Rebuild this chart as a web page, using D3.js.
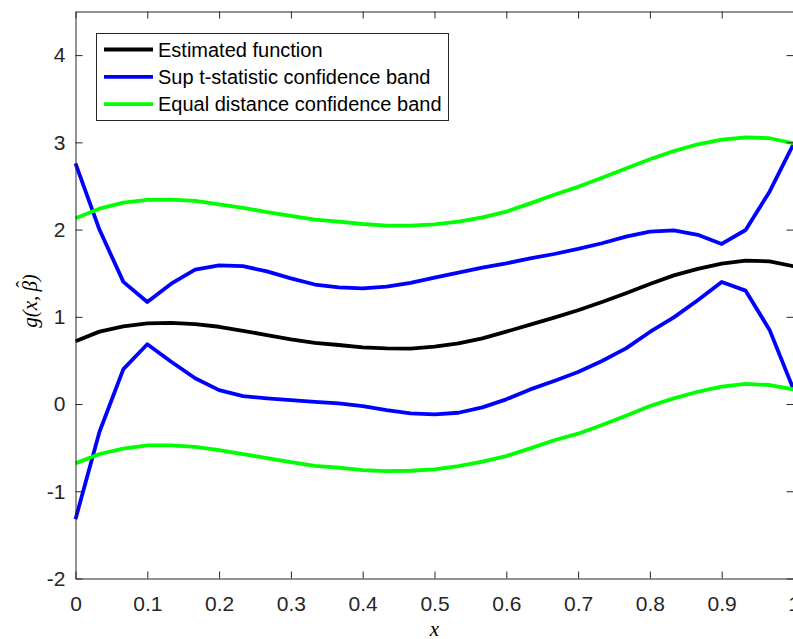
<!DOCTYPE html>
<meta charset="utf-8">
<style>
    body { margin: 0; background: #fff; }
    svg { display: block; }
    .tick text { font-family: 'Liberation Sans', Arial, sans-serif; font-size: 21px; fill: #262626; }
    .legend text { font-family: 'Liberation Sans', Arial, sans-serif; font-size: 20px; fill: #000; }
    .mathlabel { font-family: 'Liberation Serif', 'DejaVu Serif', serif; font-style: italic; font-size: 21px; fill: #000; }
</style>
<svg width="793" height="639"></svg>
<script src="https://cdn.jsdelivr.net/npm/d3@7"></script>
<script>
    // sample points x = 0, 1/30, ..., 1
    var xs = d3.range(31).map(function (i) { return i / 30; });

    var estimated = [0.72, 0.83, 0.89, 0.925, 0.93, 0.917, 0.886, 0.84, 0.79, 0.74, 0.70,
        0.677, 0.65, 0.638, 0.636, 0.657, 0.696, 0.753, 0.83, 0.91, 0.99,
        1.075, 1.17, 1.27, 1.376, 1.475, 1.55, 1.61, 1.645, 1.636, 1.58];
    var supUpper = [2.76, 2.0, 1.40, 1.17, 1.38, 1.54, 1.59, 1.58, 1.52, 1.44, 1.37,
        1.338, 1.327, 1.345, 1.39, 1.45, 1.506, 1.563, 1.613, 1.67, 1.72,
        1.778, 1.843, 1.92, 1.976, 1.99, 1.94, 1.835, 1.995, 2.435, 2.98];
    var supLower = [-1.32, -0.32, 0.40, 0.685, 0.485, 0.295, 0.16, 0.09, 0.065, 0.046, 0.025,
        0.008, -0.023, -0.069, -0.107, -0.118, -0.10, -0.038, 0.054, 0.168, 0.265,
        0.367, 0.493, 0.638, 0.826, 0.994, 1.19, 1.40, 1.30, 0.85, 0.17];
    var eqUpper = [2.13, 2.24, 2.31, 2.34, 2.343, 2.33, 2.29, 2.25, 2.20, 2.156, 2.115,
        2.09, 2.064, 2.045, 2.045, 2.06, 2.09, 2.14, 2.205, 2.30, 2.40,
        2.49, 2.595, 2.70, 2.806, 2.90, 2.978, 3.03, 3.058, 3.047, 2.99];
    var eqLower = [-0.68, -0.573, -0.51, -0.474, -0.474, -0.49, -0.527, -0.573, -0.62, -0.665, -0.71,
        -0.73, -0.757, -0.768, -0.765, -0.749, -0.711, -0.661, -0.596, -0.508, -0.415,
        -0.34, -0.24, -0.134, -0.023, 0.065, 0.141, 0.199, 0.23, 0.218, 0.168];

    var xTicks = [0, 0.1, 0.2, 0.3, 0.4, 0.5, 0.6, 0.7, 0.8, 0.9, 1];
    var xTickLabels = ["0", "0.1", "0.2", "0.3", "0.4", "0.5", "0.6", "0.7", "0.8", "0.9", "1"];
    var yTicks = [-2, -1, 0, 1, 2, 3, 4];
    var yTickLabels = ["-2", "-1", "0", "1", "2", "3", "4"];

    var legendNames = ["Estimated function", "Sup t-statistic confidence band", "Equal distance confidence band"];
    var legendColors = ["#000000", "#0000ff", "#00ff00"];

    var svg = d3.select("svg");
    var mLeft = 75.5, mRight = 793.5, mTop = 11.5, mBottom = 578.5;

    var x = d3.scaleLinear().domain([0, 1]).range([mLeft, mRight]);
    var y = d3.scaleLinear().domain([-2, 4.5]).range([mBottom, mTop]);

    var line = d3.line()
        .x(function (d, i) { return x(xs[i]); })
        .y(function (d) { return y(d); });

    // data lines
    var series = [
        { v: estimated, c: legendColors[0] },
        { v: supUpper, c: legendColors[1] },
        { v: supLower, c: legendColors[1] },
        { v: eqUpper, c: legendColors[2] },
        { v: eqLower, c: legendColors[2] }
    ];
    svg.append("g")
        .selectAll("path")
        .data(series)
        .enter().append("path")
        .attr("fill", "none")
        .attr("stroke", function (d) { return d.c; })
        .attr("stroke-width", 3.8)
        .attr("stroke-linejoin", "round")
        .attr("d", function (d) { return line(d.v); });

    // axes (box with inward ticks)
    function styleAxis(g) {
        g.selectAll(".domain").attr("stroke", "#262626");
        g.selectAll(".tick line").attr("stroke", "#262626");
    }
    svg.append("g")
        .attr("transform", "translate(0," + mBottom + ")")
        .call(d3.axisBottom(x).tickValues(xTicks)
            .tickFormat(function (d, i) { return xTickLabels[i]; })
            .tickSizeInner(-7).tickSizeOuter(0).tickPadding(18))
        .call(styleAxis);
    svg.append("g")
        .attr("transform", "translate(0," + mTop + ")")
        .call(d3.axisTop(x).tickValues(xTicks).tickFormat("")
            .tickSizeInner(-7).tickSizeOuter(0))
        .call(styleAxis);
    svg.append("g")
        .attr("transform", "translate(" + mLeft + ",0)")
        .call(d3.axisLeft(y).tickValues(yTicks)
            .tickFormat(function (d, i) { return yTickLabels[i]; })
            .tickSizeInner(-7).tickSizeOuter(0).tickPadding(10))
        .call(styleAxis);
    svg.append("g")
        .attr("transform", "translate(" + mRight + ",0)")
        .call(d3.axisRight(y).tickValues(yTicks).tickFormat("")
            .tickSizeInner(-7).tickSizeOuter(0))
        .call(styleAxis);
    svg.selectAll(".tick text").attr("font-size", null).attr("font-family", null).attr("fill", null);

    // axis labels
    svg.append("text")
        .attr("class", "mathlabel")
        .attr("x", (mLeft + mRight) / 2)
        .attr("y", 636)
        .attr("text-anchor", "middle")
        .text("x");

    var yl = svg.append("g")
        .attr("transform", "translate(37," + ((mTop + mBottom) / 2 + 6) + ") rotate(-90)");
    var ylText = yl.append("text")
        .attr("class", "mathlabel")
        .attr("text-anchor", "middle")
        .text("g(x,\u2009\u03B2)");
    // hat over beta
    var node = ylText.node();
    var total = node.getComputedTextLength();
    var full = node.textContent;
    var bi = full.indexOf("\u03B2");
    var bStart = node.getSubStringLength(0, bi) - total / 2;
    var bW = node.getSubStringLength(bi, 1);
    yl.append("text")
        .attr("class", "mathlabel")
        .attr("x", bStart + bW / 2 + 2)
        .attr("y", -6)
        .attr("text-anchor", "middle")
        .style("font-style", "normal")
        .text("\u02C6");

    // legend
    var lg = svg.append("g").attr("class", "legend");
    lg.append("rect")
        .attr("x", 96.5).attr("y", 33.5)
        .attr("width", 352).attr("height", 87)
        .attr("fill", "#fff")
        .attr("stroke", "#262626")
        .attr("stroke-width", 1);
    var rows = lg.selectAll("g.row")
        .data(legendNames)
        .enter().append("g")
        .attr("class", "row")
        .attr("transform", function (d, i) { return "translate(0," + (49.5 + i * 27.3) + ")"; });
    rows.append("line")
        .attr("x1", 104).attr("x2", 153)
        .attr("stroke", function (d, i) { return legendColors[i]; })
        .attr("stroke-width", 3.8);
    rows.append("text")
        .attr("x", 158)
        .attr("dy", "0.35em")
        .text(function (d) { return d; });
</script>
